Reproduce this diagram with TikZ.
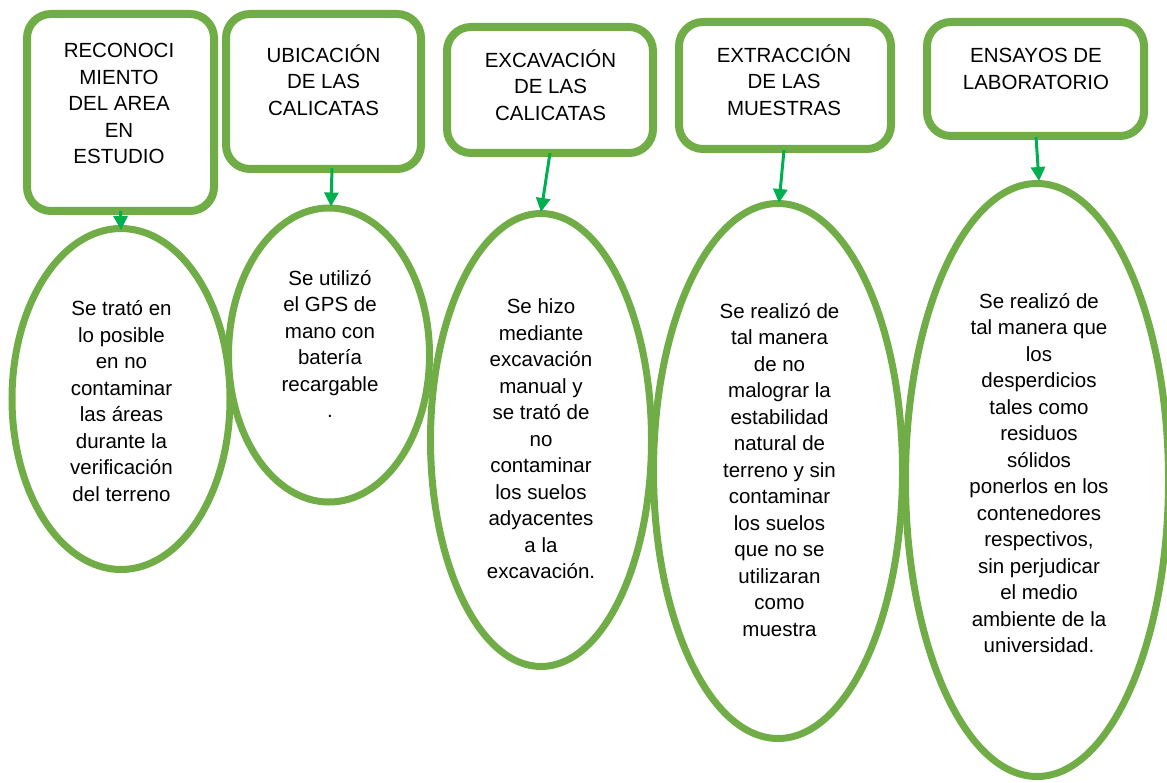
\documentclass[tikz,border=0pt]{standalone}
\usepackage{fontspec}
\setmainfont{Liberation Sans}
\usepackage{xcolor}
\usepackage{tikz}
\usetikzlibrary{shapes.geometric,arrows.meta,positioning}
\definecolor{verde}{HTML}{70AD47}
\definecolor{verdeflecha}{HTML}{00B050}
\tikzset{
  caja/.style={rectangle,rounded corners=24pt,draw=verde,line width=8pt,fill=white},
  ovalo/.style={ellipse,draw=verde,line width=7pt},
  texto/.style={align=center,text=black,inner sep=0pt,
                font=\fontsize{20.5}{26.5}\selectfont},
  flecha/.style={-{Triangle[length=14pt,width=14pt]},line width=3pt,draw=verdeflecha},
}

\begin{document}
\begin{tikzpicture}[x=1pt,y=-1pt]
  \useasboundingbox (0,0) rectangle (1167,783);
  % cajas de las etapas
  \node[caja,minimum width=187pt,minimum height=197pt] (c1) at (120.5,112.5) {};
  \node[caja,minimum width=195pt,minimum height=155pt] (c2) at (323.5,91.5) {};
  \node[caja,minimum width=206pt,minimum height=126pt] (c3) at (550,90) {};
  \node[caja,minimum width=212pt,minimum height=127pt] (c4) at (785,85.5) {};
  \node[caja,minimum width=217pt,minimum height=114pt] (c5) at (1035.5,79) {};
  \node[texto] (tc1) at (119,103.5) {RECONOCI\\MIENTO\\DEL AREA\\EN\\ESTUDIO};
  \node[texto] (tc2) at (323.5,80) {UBICACIÓN\\DE LAS\\CALICATAS};
  \node[texto] (tc3) at (550.5,85) {EXCAVACIÓN\\DE LAS\\CALICATAS};
  \node[texto] (tc4) at (784,80) {EXTRACCIÓN\\DE LAS\\MUESTRAS};
  \node[texto] (tc5) at (1036,69) {ENSAYOS DE\\LABORATORIO};
  % ovalos con la descripcion
  \node[ovalo,minimum width=218pt,minimum height=341pt] (e1) at (121,399) {};
  \node[ovalo,minimum width=201pt,minimum height=294pt] (e2) at (329,355) {};
  \node[ovalo,minimum width=221pt,minimum height=453pt] (e3) at (541,440) {};
  \node[ovalo,minimum width=249pt,minimum height=535pt] (e4) at (778,471) {};
  \node[ovalo,minimum width=263pt,minimum height=593pt] (e5) at (1037,480) {};
  \node[texto] (te1) at (121.5,401) {Se trató en\\lo posible\\en no\\contaminar\\las áreas\\durante la\\verificación\\del terreno};
  \node[texto] (te2) at (330,344) {Se utilizó\\el GPS de\\mano con\\batería\\recargable\\.};
  \node[texto] (te3) at (541,439) {Se hizo\\mediante\\excavación\\manual y\\se trató de\\no\\contaminar\\los suelos\\adyacentes\\a la\\excavación.};
  \node[texto] (te4) at (779.5,470) {Se realizó de\\tal manera\\de no\\malograr la\\estabilidad\\natural de\\terreno y sin\\contaminar\\los suelos\\que no se\\utilizaran\\como\\muestra};
  \node[texto] (te5) at (1039,473) {Se realizó de\\tal manera que\\los\\desperdicios\\tales como\\residuos\\sólidos\\ponerlos en los\\contenedores\\respectivos,\\sin perjudicar\\el medio\\ambiente de la\\universidad.};
  % flechas
  \foreach \i/\xa/\ya/\xb/\yb in {1/0/-4/0/5, 2/8.5/-5/2/2, 3/0/-4/0/2, 4/-1/-3/1/3, 5/0.5/-3/2/1}{
    \draw[flecha] ([shift={(\xa,\ya)}]c\i.south) -- ([shift={(\xb,\yb)}]e\i.north);
  }
\end{tikzpicture}
\end{document}
